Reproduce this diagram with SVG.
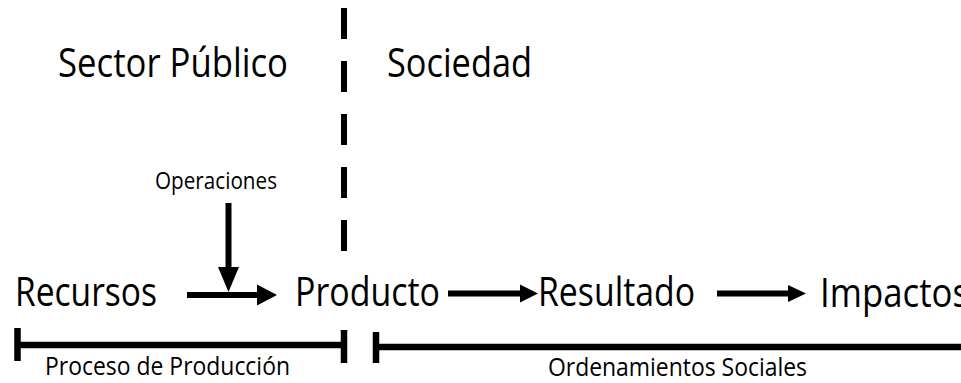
<svg xmlns="http://www.w3.org/2000/svg" width="961" height="383" viewBox="0 0 961 383">
<style>
  text { font-family: "Open Sans", "Noto Sans", "Liberation Sans", sans-serif; fill: #000; }
  .big { font-size: 41px; }
  .mid { font-size: 25px; }
  .small { font-size: 24px; }
  .line { stroke: #000; stroke-width: 6; fill: none; }
  .bar { stroke: #000; stroke-width: 6.5; fill: none; }
  .head { fill: #000; }
</style>
<rect width="961" height="383" fill="#fff"/>

<g id="divider">
  <line class="line" x1="344" y1="8" x2="344" y2="252" stroke-dasharray="31 22"/>
</g>

<g id="sector-publico"><text class="big" x="58" y="77" textLength="230" lengthAdjust="spacingAndGlyphs">Sector Público</text></g>
<g id="sociedad"><text class="big" x="387" y="77" textLength="145" lengthAdjust="spacingAndGlyphs">Sociedad</text></g>
<g id="operaciones"><text class="small" x="155" y="189" textLength="122" lengthAdjust="spacingAndGlyphs">Operaciones</text></g>
<g id="recursos"><text class="big" x="15" y="306" textLength="142" lengthAdjust="spacingAndGlyphs">Recursos</text></g>
<g id="producto"><text class="big" x="295" y="306" textLength="145" lengthAdjust="spacingAndGlyphs">Producto</text></g>
<g id="resultado"><text class="big" x="538" y="306" textLength="157" lengthAdjust="spacingAndGlyphs">Resultado</text></g>
<g id="impactos"><text class="big" x="820" y="307" textLength="149" lengthAdjust="spacingAndGlyphs">Impactos</text></g>

<g id="proceso-produccion">
  <line class="bar" x1="17.5" y1="345" x2="344" y2="345"/>
  <line class="bar" x1="17.5" y1="328" x2="17.5" y2="361"/>
  <line class="bar" x1="344" y1="330" x2="344" y2="363"/>
  <text class="mid" x="45" y="375" textLength="245" lengthAdjust="spacingAndGlyphs">Proceso de Producción</text>
</g>

<g id="ordenamientos-sociales">
  <line class="bar" x1="376" y1="347" x2="961" y2="347"/>
  <line class="bar" x1="376" y1="332" x2="376" y2="363"/>
  <text class="mid" x="548" y="376" textLength="259" lengthAdjust="spacingAndGlyphs">Ordenamientos Sociales</text>
</g>

<g id="connectors">
  <line class="line" x1="187" y1="295" x2="259" y2="295"/>
  <polygon class="head" points="257,284.5 277,295 257,305.5"/>
  <line class="line" x1="228.5" y1="203" x2="228.5" y2="269"/>
  <polygon class="head" points="218,267 239,267 228.5,292"/>
  <line class="line" x1="448" y1="293.5" x2="522" y2="293.5"/>
  <polygon class="head" points="520,284.5 538,293.5 520,302.5"/>
  <line class="line" x1="717" y1="293.5" x2="790" y2="293.5"/>
  <polygon class="head" points="788,285 806,293.5 788,302"/>
</g>
</svg>
